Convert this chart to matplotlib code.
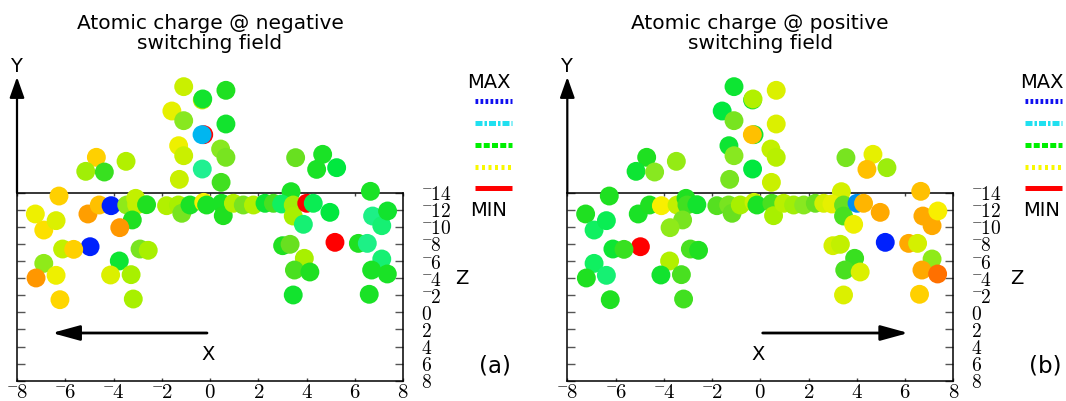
import matplotlib
matplotlib.use("Agg")
import matplotlib.pyplot as plt
from matplotlib.colors import LinearSegmentedColormap
from matplotlib.lines import Line2D
from matplotlib.patches import FancyArrowPatch

plt.rcParams['mathtext.fontset'] = 'cm'
plt.rcParams['font.family'] = ['DejaVu Sans']

# ---------------- data ----------------
titles = ["Atomic charge @ negative\nswitching field",
          "Atomic charge @ positive\nswitching field"]
panel_tags = ["(a)", "(b)"]
x_ticks = [-8, -6, -4, -2, 0, 2, 4, 6, 8]
z_ticks = [-14, -12, -10, -8, -6, -4, -2, 0, 2, 4, 6, 8]
legend_labels = ["MAX", "MIN"]

# atom positions (x, and vertical coordinate in Z units; values < -14 are the Y projection)
atom_x = [-1.09, -0.32, -0.30, 0.66, -1.58, -1.09, -0.26, -0.33, 0.66, -1.30,
          -1.09, 0.44, 0.66, -0.32, -1.27, 0.46, -4.71, -5.15, -4.38, -3.48,
          3.55, 4.67, 4.42, 5.25, 3.36, 6.65, -6.26, -7.24, -6.89, -6.38,
          -5.06, -4.59, -4.10, -3.45, -3.08, -3.04, -2.63, -3.22, -3.74, -4.97,
          -6.11, -5.65, -6.89, -7.21, -6.38, -6.22, -3.76, -4.12, -3.27, -3.18,
          -2.90, -2.56, -1.80, -1.31, -1.17, -0.83, -0.26, -0.14, 0.48, 0.55,
          0.97, 1.38, 1.80, 2.28, 2.63, 2.97, 3.45, 3.45, 3.87, 4.01,
          4.28, 4.97, 5.18, 3.01, 3.32, 3.91, 3.50, 4.14, 3.45, 6.74,
          7.12, 7.36, 6.15, 6.52, 7.12, 6.70, 7.35, 6.60]
atom_h = [-26.41, -24.85, -24.97, -25.98, -23.56, -22.43, -20.79, -20.79, -22.04, -19.50,
          -18.33, -19.11, -18.14, -16.77, -15.56, -15.21, -18.14, -16.50, -16.42, -17.67,
          -18.10, -18.49, -16.73, -16.93, -14.12, -14.16, -13.61, -11.51, -9.63, -10.73,
          -11.51, -12.56, -12.48, -12.56, -13.34, -12.56, -12.60, -10.81, -9.91, -7.68,
          -7.41, -7.37, -5.73, -4.02, -4.33, -1.48, -6.01, -4.37, -4.41, -1.56,
          -7.41, -7.26, -12.48, -12.56, -11.59, -12.56, -12.87, -12.56, -12.76, -11.31,
          -12.76, -12.56, -12.56, -12.76, -12.76, -12.68, -12.56, -11.27, -10.30, -12.76,
          -12.76, -11.70, -8.19, -7.80, -7.96, -6.32, -4.95, -4.72, -2.03, -11.27,
          -10.14, -11.86, -8.07, -8.07, -6.24, -4.95, -4.49, -2.11]

# normalized atomic charge (0 = MIN, 1 = MAX)
charge_neg = [0.29, 0.30, 0.52, 0.50, 0.26, 0.38, 0.00, 0.81, 0.52, 0.25,
              0.29, 0.38, 0.40, 0.65, 0.29, 0.46, 0.20, 0.34, 0.47, 0.32,
              0.42, 0.51, 0.51, 0.55, 0.51, 0.51, 0.20, 0.25, 0.22, 0.27,
              0.16, 0.19, 0.98, 0.37, 0.30, 0.30, 0.50, 0.50, 0.15, 0.98,
              0.30, 0.20, 0.37, 0.15, 0.25, 0.21, 0.53, 0.27, 0.33, 0.33,
              0.40, 0.33, 0.32, 0.33, 0.40, 0.51, 0.24, 0.51, 0.51, 0.50,
              0.32, 0.40, 0.32, 0.53, 0.45, 0.60, 0.34, 0.33, 0.62, 0.00,
              0.58, 0.55, 0.00, 0.50, 0.42, 0.33, 0.45, 0.50, 0.52, 0.64,
              0.62, 0.52, 0.50, 0.64, 0.62, 0.51, 0.51, 0.51]
charge_pos = [0.53, 0.52, 0.32, 0.27, 0.55, 0.40, 0.52, 0.19, 0.27, 0.53,
              0.38, 0.30, 0.31, 0.55, 0.40, 0.29, 0.50, 0.53, 0.38, 0.36,
              0.40, 0.26, 0.19, 0.35, 0.28, 0.19, 0.50, 0.50, 0.60, 0.58,
              0.51, 0.50, 0.24, 0.30, 0.50, 0.46, 0.52, 0.40, 0.37, 0.00,
              0.53, 0.47, 0.60, 0.50, 0.62, 0.50, 0.32, 0.52, 0.45, 0.46,
              0.45, 0.50, 0.44, 0.40, 0.42, 0.33, 0.29, 0.51, 0.45, 0.33,
              0.31, 0.34, 0.38, 0.42, 0.28, 0.26, 0.42, 0.45, 0.25, 0.85,
              0.18, 0.17, 0.98, 0.28, 0.30, 0.47, 0.45, 0.27, 0.27, 0.17,
              0.17, 0.24, 0.17, 0.28, 0.37, 0.17, 0.11, 0.20]
charges = [charge_neg, charge_pos]

# ---------------- style ----------------
cmap = LinearSegmentedColormap.from_list("charge", [
    (0.00, "#ff0000"), (0.11, "#ff7000"), (0.15, "#ff9800"), (0.18, "#ffb400"),
    (0.20, "#ffd000"), (0.24, "#f8f000"), (0.27, "#dcf000"), (0.30, "#c0f000"),
    (0.33, "#a8f000"), (0.38, "#88e820"), (0.42, "#68e020"), (0.46, "#40e020"),
    (0.50, "#20e020"), (0.55, "#00e840"), (0.60, "#10f060"), (0.65, "#20f090"),
    (0.75, "#00e0f0"), (0.81, "#00b8f0"), (0.85, "#0090f0"), (1.00, "#0010ff")])

W, H = 1066, 401
fig = plt.figure(figsize=(W / 100, H / 100), dpi=100)


def fx(px):
    return px / W


def fy(py):
    return 1 - py / H


def tick_label(v):
    if v < 0:
        return r'$^{-}\!%d$' % abs(v)
    return r'$%d$' % v


box_left = [17.0, 567.3]
box_w = 386.0
box_top, box_bot = 192.7, 380.7
off = [0.0, 550.3]

for k in range(2):
    ax = fig.add_axes([fx(box_left[k]), fy(box_bot), box_w / W, (box_bot - box_top) / H])
    ax.set_xlim(-8, 8)
    ax.set_ylim(8, -14)
    for s in ax.spines.values():
        s.set_linewidth(1.1)
    ax.set_xticks(x_ticks)
    ax.set_xticklabels([tick_label(v) for v in x_ticks])
    ax.set_yticks(z_ticks)
    ax.set_yticklabels([tick_label(v) for v in z_ticks])
    ax.tick_params(axis='x', direction='in', top=True, bottom=True, length=2.5,
                   width=1.0, color='#444444', labelsize=15, pad=1)
    ax.tick_params(axis='y', direction='in', left=True, right=True, length=6,
                   width=1.0, color='#555555', labelsize=14,
                   labelleft=False, labelright=True, pad=13)

    ax.scatter(atom_x, atom_h, c=charges[k], cmap=cmap, vmin=0, vmax=1,
               s=185, linewidths=0, clip_on=False, zorder=3)

    o = off[k]
    # Y axis arrow
    fig.add_artist(FancyArrowPatch(
        (fx(box_left[k]), fy(box_top)), (fx(box_left[k]), fy(77)),
        transform=fig.transFigure, arrowstyle='-|>,head_length=0.9,head_width=0.32',
        mutation_scale=14, lw=1.6, color='k', shrinkA=0, shrinkB=0))
    fig.text(fx(box_left[k] - 1), fy(66.5), "Y", ha='center', va='center', fontsize=14)

    # X arrow
    if k == 0:
        a0, a1 = 207, 52
    else:
        a0, a1 = 762.7, 908.3
    fig.add_artist(FancyArrowPatch(
        (fx(a0), fy(333)), (fx(a1), fy(333)),
        transform=fig.transFigure, arrowstyle='-|>,head_length=1.2,head_width=0.33',
        mutation_scale=14, lw=2.0, color='k', shrinkA=0, shrinkB=0))
    fig.text(fx(208 + o), fy(354), "X", ha='center', va='center', fontsize=14)

    # title
    fig.text(fx(210 + o), fy(33.5), titles[k], ha='center', va='center',
             fontsize=14.5, linespacing=1.12)

    # Z label and panel tag
    fig.text(fx([462, 1016.7][k]), fy(278), "Z", ha='center', va='center', fontsize=14)
    fig.text(fx(495 + o), fy(366), panel_tags[k], ha='center', va='center', fontsize=16.5)

    # colour legend
    lx0, lx1 = 475 + o, 512 + o
    lx_c = [489, 1042][k]
    fig.text(fx(lx_c), fy(83), legend_labels[0], ha='center', va='center', fontsize=14)
    fig.text(fx(lx_c), fy(210), legend_labels[1], ha='center', va='center', fontsize=14)
    leg_styles = [
        (101, "#1010f0", (0.55, 0.45)),
        (123, "#20e0f0", (1.4, 0.4, 0.5, 0.4)),
        (145, "#00f000", (1.2, 0.45)),
        (167, "#f8f800", (0.6, 0.7)),
        (188, "#ff0000", None),
    ]
    for py, col, dash in leg_styles:
        ln = Line2D([fx(lx0), fx(lx1)], [fy(py), fy(py)], transform=fig.transFigure,
                    color=col, lw=3.6, solid_capstyle='butt', dash_capstyle='butt')
        if dash is not None:
            ln.set_dashes(dash)
        fig.add_artist(ln)

fig.savefig("out.png", dpi=100)
